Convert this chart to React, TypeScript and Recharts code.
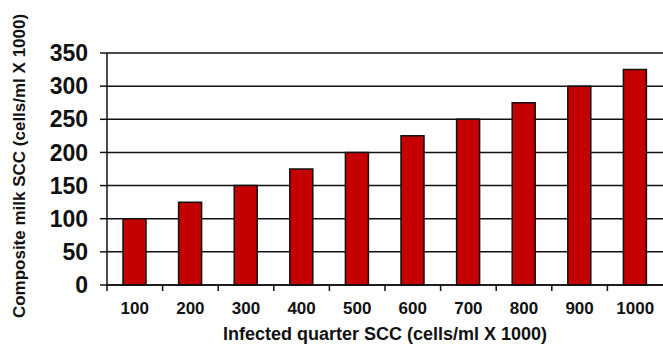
import { BarChart, Bar, XAxis, YAxis, CartesianGrid } from "recharts";

const categories = ["100", "200", "300", "400", "500", "600", "700", "800", "900", "1000"];
const compositeScc = [100, 125, 150, 175, 200, 225, 250, 275, 300, 325];
const yTicks = [0, 50, 100, 150, 200, 250, 300, 350];

const data = categories.map((c, i) => ({ quarter: c, composite: compositeScc[i] }));

const FONT = "'Liberation Sans', Arial, sans-serif";

// category labels centred, tick marks on the band edges
function XTick(props: any) {
  const { x, y, payload } = props;
  const edge = x - (payload.offset || 0);
  return (
    <g>
      <line x1={edge} y1={285} x2={edge} y2={291} stroke="#111" strokeWidth={1.5} />
      <text x={x} y={y} dy="0.71em" textAnchor="middle" fontFamily={FONT} fontWeight="bold" fontSize={17} fill="#111">
        {payload.value}
      </text>
    </g>
  );
}

export default function App() {
  return (
    <div style={{ position: "absolute", left: 0, top: 0, background: "#fff" }}>
      <BarChart width={663} height={351} data={data} margin={{ top: 53, right: 0, bottom: 16, left: 0 }} barSize={23}>
        <CartesianGrid vertical={false} stroke="#111" strokeWidth={1.5} />
        <XAxis
          dataKey="quarter"
          height={50}
          axisLine={{ stroke: "#111", strokeWidth: 1.5 }}
          tickLine={false}
          tickSize={6}
          tickMargin={11}
          tick={<XTick />}
          interval={0}
          label={{
            value: "Infected quarter SCC (cells/ml X 1000)",
            position: "insideBottom",
            offset: -5,
            style: { fontFamily: FONT, fontWeight: "bold", fontSize: 18, fill: "#111" },
          }}
        />
        <YAxis
          width={107}
          domain={[0, 350]}
          ticks={yTicks}
          interval={0}
          axisLine={{ stroke: "#111", strokeWidth: 1.5 }}
          tickLine={{ stroke: "#111", strokeWidth: 1.5 }}
          tickSize={7}
          tickMargin={12}
          tick={{ fontFamily: FONT, fontWeight: "bold", fontSize: 23, fill: "#111" }}
          label={{
            value: "Composite milk SCC (cells/ml X 1000)",
            angle: -90,
            position: "center",
            dx: -35,
            dy: -3,
            style: { fontFamily: FONT, fontWeight: "bold", fontSize: 17, fill: "#111", textAnchor: "middle" },
          }}
        />
        <Bar dataKey="composite" fill="#c40000" stroke="#111" strokeWidth={1.5} isAnimationActive={false} />
      </BarChart>
    </div>
  );
}
